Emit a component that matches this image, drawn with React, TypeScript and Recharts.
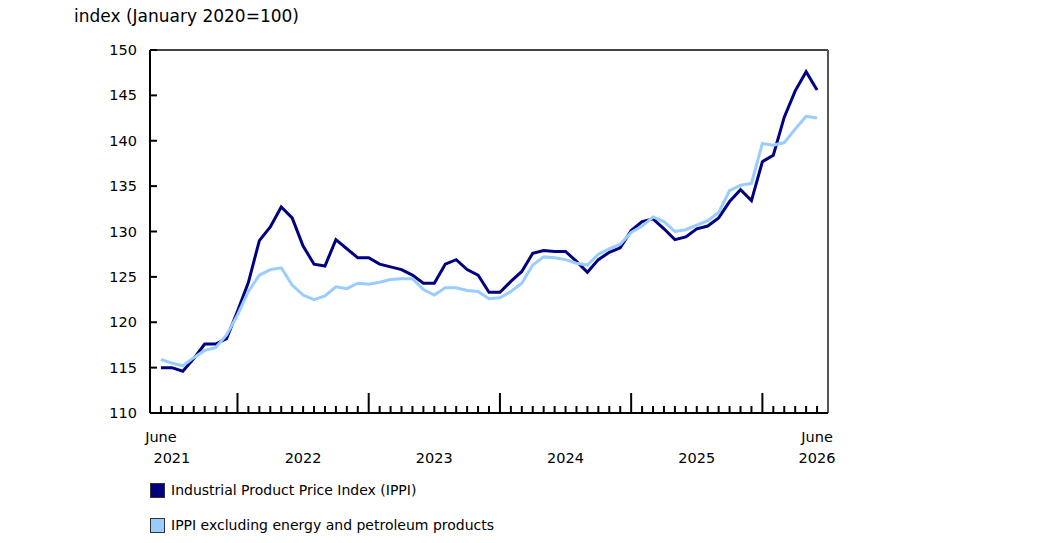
import React from 'react';
import { LineChart, Line, XAxis, YAxis, ReferenceLine } from 'recharts';

// Monthly series, June 2021 to June 2026
const START_YEAR = 2021;
const START_MONTH = 6; // June

const ippi = [
  115.0, 115.0, 114.6, 116.0, 117.6, 117.6, 118.2,
  121.2, 124.4, 129.0, 130.5, 132.7, 131.5, 128.4, 126.4, 126.2, 129.1, 128.1, 127.1,
  127.1, 126.4, 126.1, 125.8, 125.2, 124.3, 124.3, 126.4, 126.9, 125.8, 125.2, 123.3,
  123.3, 124.5, 125.6, 127.6, 127.9, 127.8, 127.8, 126.7, 125.5, 126.9, 127.7, 128.2,
  130.1, 131.1, 131.4, 130.3, 129.1, 129.4, 130.3, 130.6, 131.5, 133.3, 134.6, 133.4,
  137.7, 138.4, 142.6, 145.5, 147.6, 145.6,
];

const ippiExEnergy = [
  115.9, 115.5, 115.2, 116.1, 116.9, 117.2, 118.6,
  120.8, 123.4, 125.2, 125.8, 126.0, 124.1, 123.0, 122.5, 122.9, 123.9, 123.7, 124.3,
  124.2, 124.4, 124.7, 124.8, 124.8, 123.6, 123.0, 123.8, 123.8, 123.5, 123.4, 122.6,
  122.7, 123.4, 124.3, 126.3, 127.2, 127.1, 126.9, 126.5, 126.3, 127.5, 128.1, 128.6,
  129.9, 130.6, 131.6, 131.1, 130.0, 130.2, 130.7, 131.2, 132.1, 134.5, 135.1, 135.3,
  139.7, 139.5, 139.8, 141.3, 142.7, 142.5,
];

const yTicks = [110, 115, 120, 125, 130, 135, 140, 145, 150];

const seriesNames = [
  'Industrial Product Price Index (IPPI)',
  'IPPI excluding energy and petroleum products',
];
const DARK = '#000080';
const LIGHT = '#99ccff';
const FONT = '"DejaVu Sans", Verdana, sans-serif';

const monthOf = (i: number) => (START_MONTH - 1 + i) % 12; // 0 = January
const yearOf = (i: number) => START_YEAR + Math.floor((START_MONTH - 1 + i) / 12);

const data = ippi.map((v, i) => ({ idx: i, ippi: v, exEnergy: ippiExEnergy[i] }));
const xTicks = data.map(d => d.idx);
const last = data.length - 1;

const XTick = (props: any) => {
  const { x, y, payload } = props;
  const i = payload.value as number;
  const m = monthOf(i);
  const len = m === 0 ? 20 : 7;
  const showMonth = i === 0 || i === last;
  const showYear = m === 6 || i === last;
  return (
    <g>
      <line x1={x} x2={x} y1={y} y2={y - len} stroke="#000" strokeWidth={2} />
      {showMonth && (
        <text x={x} y={y + 29} textAnchor="middle" fontSize={14.5} fontFamily={FONT} fill="#000">June</text>
      )}
      {showYear && (
        <text x={x} y={y + 50} textAnchor="middle" fontSize={14.5} fontFamily={FONT} fill="#000">{yearOf(i)}</text>
      )}
    </g>
  );
};

const YTick = (props: any) => {
  const { x, y, payload } = props;
  return (
    <g>
      <line x1={x} x2={x + 7} y1={y} y2={y} stroke="#000" strokeWidth={2} />
      <text x={x - 13} y={y + 5} textAnchor="end" fontSize={14.5} fontFamily={FONT} fill="#000">{payload.value}</text>
    </g>
  );
};

export default function App() {
  return (
    <div style={{ position: 'absolute', left: 0, top: 0, width: 1038, height: 543, fontFamily: FONT }}>
      <div style={{ position: 'absolute', left: 74, top: 6, fontSize: 17, color: '#000' }}>
        index (January 2020=100)
      </div>
      <LineChart width={1038} height={543} data={data} margin={{ top: 50, right: 210, bottom: 70, left: 90 }}>
        <XAxis
          type="number"
          dataKey="idx"
          domain={[-1, last + 1]}
          ticks={xTicks}
          interval={0}
          height={60}
          tickSize={0}
          tickMargin={0}
          tickLine={false}
          axisLine={{ stroke: '#000', strokeWidth: 2 }}
          tick={<XTick />}
        />
        <YAxis
          type="number"
          domain={[110, 150]}
          ticks={yTicks}
          width={60}
          tickSize={0}
          tickMargin={0}
          tickLine={false}
          axisLine={{ stroke: '#000', strokeWidth: 2 }}
          tick={<YTick />}
          allowDataOverflow
        />
        <ReferenceLine y={150} stroke="#444" strokeWidth={2} />
        <ReferenceLine x={last + 1} stroke="#555" strokeWidth={2} />
        <Line dataKey="ippi" stroke={DARK} strokeWidth={3} dot={false} isAnimationActive={false} />
        <Line dataKey="exEnergy" stroke={LIGHT} strokeWidth={3} dot={false} isAnimationActive={false} />
      </LineChart>
      {seriesNames.map((name, k) => (
        <div key={name} style={{ position: 'absolute', left: 150, top: 482 + k * 35, display: 'flex', alignItems: 'center', fontSize: 14, color: '#000' }}>
          <span style={{ width: 13, height: 13, background: k === 0 ? DARK : LIGHT, border: '1px solid #333', display: 'inline-block', marginRight: 6 }} />
          {name}
        </div>
      ))}
    </div>
  );
}
